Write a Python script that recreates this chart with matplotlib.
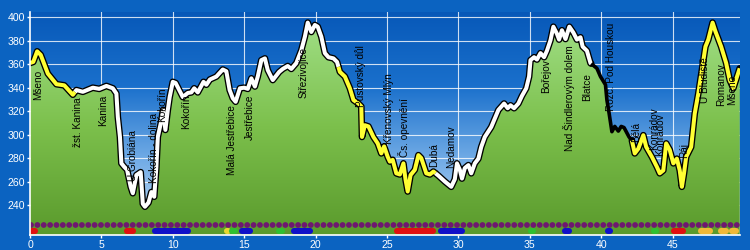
import matplotlib.pyplot as plt
import numpy as np
from matplotlib.colors import LinearSegmentedColormap
from matplotlib.patches import Polygon

plt.rcParams['font.family'] = ['Liberation Sans', 'DejaVu Sans']

# vyskovy profil trasy (km, m n.m.)
km = [0.0, 0.23, 0.5, 0.75, 1.25, 1.85, 2.4, 3.0, 3.25, 3.7, 4.4, 4.85, 5.35, 5.8,
      6.05, 6.15, 6.3, 6.4, 6.6, 6.8, 7.05, 7.2, 7.45, 7.75, 7.9, 8.05, 8.3, 8.5,
      8.7, 8.85, 8.95, 9.2, 9.32, 9.48, 9.65, 9.78, 10.0, 10.2, 10.7, 11.05, 11.3,
      11.5, 11.75, 12.15, 12.35, 12.6, 13.05, 13.5, 13.75, 13.98, 14.2, 14.4, 14.7,
      15.0, 15.25, 15.5, 15.75, 15.95, 16.2, 16.45, 16.65, 17.0, 17.45, 17.7, 18.05,
      18.3, 18.65, 19.0, 19.25, 19.45, 19.7, 19.95, 20.15, 20.4, 20.65, 20.9, 21.25,
      21.5, 21.7, 22.05, 22.4, 22.65, 23.0, 23.2, 23.25, 23.45, 23.7, 24.05, 24.35,
      24.6, 24.8, 25.05, 25.2, 25.4, 25.65, 25.9, 26.15, 26.3, 26.45, 26.65, 26.95,
      27.2, 27.4, 27.75, 28.0, 28.25, 28.6, 29.05, 29.5, 29.75, 29.9, 30.1, 30.25,
      30.45, 30.7, 30.9, 31.15, 31.4, 31.6, 31.85, 32.3, 32.8, 33.2, 33.45, 33.65,
      33.9, 34.2, 34.45, 34.75, 34.95, 35.05, 35.3, 35.5, 35.75, 36.0, 36.2, 36.45,
      36.65, 36.9, 37.05, 37.25, 37.5, 37.77, 38.05, 38.3, 38.55, 38.7, 39.0, 39.25,
      39.7, 39.95, 40.3, 40.4, 40.55, 40.75, 40.95, 41.2, 41.4, 41.6, 41.95, 42.15,
      42.35, 42.6, 42.95, 43.15, 43.55, 43.9, 44.1, 44.35, 44.55, 44.8, 45.05, 45.3,
      45.5, 45.65, 45.8, 45.95, 46.3, 46.55, 46.8, 47.05, 47.3, 47.5, 47.8, 48.0,
      48.4, 48.75, 49.0, 49.25, 49.5, 49.7]
vyska = [361, 362, 371, 368, 352, 343, 342, 334, 338, 336.5, 340, 339, 341.5, 339.5,
         335, 315, 298, 275.5, 272.5, 270, 255.5, 250, 265.5, 268, 241, 238.5, 242, 251,
         247, 272.5, 298, 312, 321, 304, 321, 332, 345, 344, 332, 335.5, 336,
         339.5, 336, 345, 342.5, 347, 349.5, 355.5, 354, 338, 331, 328, 339.5,
         340, 339, 348, 341, 349.5, 363.5, 365, 355, 346.5, 353.5, 356, 358.5,
         356, 361, 372, 383.5, 395.5, 387.5, 393.5, 392, 383.5, 369.5, 366, 365,
         362, 353.5, 349.5, 339.5, 329.5, 326.5, 324, 298, 308, 307, 298, 292.5,
         284, 290, 281, 277, 278.5, 267, 266, 275.5, 261.5, 251.5, 265.5, 270,
         282.5, 280, 267, 266, 268.5, 265, 260, 255.5, 262, 275.5, 270, 262.5,
         271.5, 274, 267, 275.5, 279.5, 289.5, 298, 306.5, 321, 326.5, 322.5, 325,
         322.5, 326.5, 333, 339.5, 349.5, 363.5, 366, 364, 369.5, 366, 371.5, 380.5,
         392, 386, 381, 389, 381.5, 392, 387, 381, 383, 375, 371.5, 361,
         356.5, 349.5, 342.5, 329.5, 318.5, 302.5, 307, 303, 307, 306, 298, 295,
         284, 288, 299.5, 289.5, 281, 272.5, 267, 269.5, 292.5, 287, 275.5, 279.5,
         269.5, 255.5, 267, 281, 289.5, 318, 335, 355, 375, 381, 395.5, 388,
         375, 361, 346.5, 339.5, 349, 356.5]

# povrch cesty: od km, do km, barva
povrch = [(0.0, 3.15, '#ffff33'), (3.15, 21.6, 'white'), (21.6, 28.4, '#ffff33'),
          (28.4, 39.3, 'white'), (39.3, 42.15, 'black'), (42.15, 49.7, '#ffff33')]

# znaceni (spodni rada)
znaceni = [(0.0, 0.45, '#e01010'), (6.7, 7.35, '#e01010'), (8.65, 11.15, '#1010c8'),
           (13.75, 13.95, '#e8d830'), (14.05, 14.45, '#30c030'), (14.7, 15.55, '#1010c8'),
           (17.35, 17.8, '#30c030'), (18.4, 19.75, '#1010c8'), (25.55, 28.35, '#e01010'),
           (28.65, 30.35, '#1010c8'), (31.05, 31.25, '#e01010'), (34.95, 35.35, '#30c030'),
           (37.35, 37.9, '#1010c8'), (40.35, 40.75, '#1010c8'), (43.6, 43.95, '#30c030'),
           (44.95, 45.85, '#e01010'), (46.85, 47.75, '#f0b838'), (48.3, 48.85, '#f0b838'),
           (49.05, 49.55, '#f0b838')]

# body na trase: jmeno, km, vyska konce popisku
mista = ['Mšeno', 'žst. Kanina', 'Kanina', 'U Grobiána', 'Kokořín - dolina', 'Kokořín',
         'Kokořín', 'Malá Jestřebice', 'Jestřebice', 'Střezivojice', 'Pustovský důl',
         'Křenovský Mlýn', 'Čs. opevnění', 'Dubá', 'Nedamov', 'Bořejov',
         'Nad Šindlerovým dolem', 'Blatce', 'Rozc. Pod Houskou', 'Bělá', 'Konrádov',
         'Konrádov', 'Ráj', 'U Bludiště', 'Romanov', 'Mšeno']
mista_km = [0.55, 3.36, 5.11, 7.21, 8.68, 9.24, 10.92, 14.15, 15.41, 19.19, 23.18,
            25.14, 26.19, 28.29, 29.48, 36.13, 37.75, 39.0, 40.69, 42.44, 43.7,
            44.12, 45.8, 47.27, 48.39, 49.16]
mista_vyska = [355, 332, 334, 304, 318, 340, 334, 325, 334, 375, 376, 352, 331, 293,
               308, 364, 376, 352, 395, 311, 323, 318, 293, 366, 361, 351]

ymin, ymax = 214.4, 404.8
xmax = 49.72

fig = plt.figure(figsize=(7.5, 2.5), dpi=100)
fig.patch.set_facecolor('#0b63c1')
ax = fig.add_axes([30 / 750, 15 / 250, 710 / 750, 223.3 / 250])

grad = np.linspace(0, 1, 256).reshape(-1, 1)
modra = LinearSegmentedColormap.from_list('modra', ['#c6def4', '#72ace6', '#1a70cc', '#0758b8'])
zelena = LinearSegmentedColormap.from_list('zelena', ['#5a9a2c', '#7cc04c', '#a2e088'])

ax.imshow(grad, extent=[0, xmax, ymin, ymax], aspect='auto', cmap=modra,
          origin='lower', zorder=0)
for x in range(5, 50, 5):
    ax.axvline(x, color='white', lw=0.8, alpha=0.8, zorder=0.5)
for y in range(240, 401, 20):
    ax.axhline(y, color='white', lw=0.8, alpha=0.8, zorder=0.5)

obrys = list(zip(km, vyska)) + [(km[-1], ymin), (km[0], ymin)]
poly = Polygon(obrys, closed=True, facecolor='none', edgecolor='none')
ax.add_patch(poly)
img = ax.imshow(grad, extent=[0, xmax, ymin, 400], aspect='auto', cmap=zelena,
                origin='lower', zorder=1)
img.set_clip_path(poly)

# profil - cerny obrys a barevna vypln (cerny usek jen tenka cara)
for od, do, barva in povrch:
    xs = [od] + [k for k in km if od < k < do] + [do]
    ys = np.interp(xs, km, vyska)
    if barva == 'black':
        ax.plot(xs, ys, color='black', lw=2.6, solid_joinstyle='round',
                solid_capstyle='round', zorder=3)
        continue
    ax.plot(xs, ys, color='black', lw=4.8, solid_joinstyle='round',
            solid_capstyle='round', zorder=3)
    ax.plot(xs, ys, color=barva, lw=2.9, solid_joinstyle='round',
            solid_capstyle='butt', zorder=4)

# spodni rady
ax.plot([0.1, 49.6], [222.9, 222.9], color='#6e1870', lw=4.2,
        linestyle=(0, (0.01, 1.08)), dash_capstyle='round', zorder=5)
for od, do, barva in znaceni:
    ax.plot([od + 0.12, do - 0.12], [217.8, 217.8], color=barva, lw=4.4,
            solid_capstyle='round', zorder=5)

for jmeno, k, v in zip(mista, mista_km, mista_vyska):
    ax.text(k, v, jmeno, rotation=90, ha='center', va='top', fontsize=7.2,
            color='black', zorder=6)

ax.set_xlim(0, xmax)
ax.set_ylim(ymin, ymax)
ax.set_xticks(range(0, 50, 5))
ax.set_yticks(range(240, 401, 20))
for s in ['top', 'right']:
    ax.spines[s].set_visible(False)
for s in ['left', 'bottom']:
    ax.spines[s].set_color('white')
    ax.spines[s].set_linewidth(1.2)
    ax.spines[s].set_zorder(7)
ax.tick_params(colors='white', labelsize=7.6, length=2.5, width=1, pad=1)

fig.savefig('out.png', dpi=100, facecolor=fig.get_facecolor())
